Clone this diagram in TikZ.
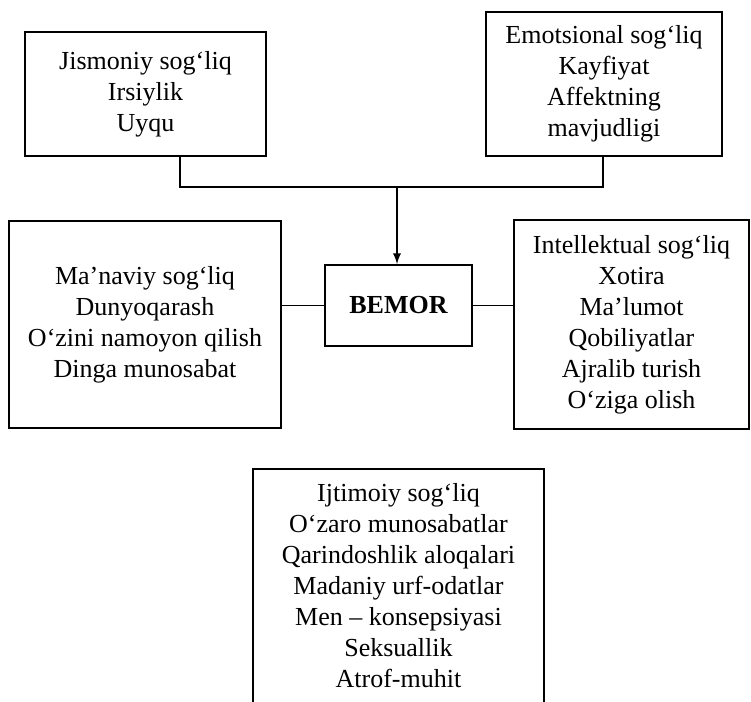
\documentclass[tikz,border=0pt]{standalone}
\usepackage{fontspec}
\setmainfont{Liberation Serif}
\usepackage{tikz}

\begin{document}
\begin{tikzpicture}[x=0.02cm, y=-0.02cm, line width=1.1pt, every node/.style={font=\fontsize{14.8}{17.6}\selectfont}, b/.style={draw, align=center, inner sep=0pt}]
	\useasboundingbox (0,0) rectangle (751,701);
	\node[b, minimum width=4.82cm, minimum height=2.48cm] (jis) at (145.5,94) {Jismoniy sog‘liq\\Irsiylik\\Uyqu};
	\node[b, minimum width=4.72cm, minimum height=2.88cm] (emo) at (604,84) {Emotsional sog‘liq\\Kayfiyat\\Affektning\\mavjudligi};
	\node[b, minimum width=5.44cm, minimum height=4.14cm] (man) at (145,324.5) {Ma’naviy sog‘liq\\Dunyoqarash\\O‘zini namoyon qilish\\Dinga munosabat};
	\node[b, minimum width=2.94cm, minimum height=1.62cm, font=\fontsize{14.8}{17.6}\selectfont\bfseries] (bem) at (398.5,305.5) {BEMOR};
	\node[b, minimum width=4.7cm, minimum height=4.18cm] (int) at (631.5,324.5) {Intellektual sog‘liq\\Xotira\\Ma’lumot\\Qobiliyatlar\\Ajralib turish\\O‘ziga olish};
	\node[align=center, inner sep=0pt, minimum width=5.78cm, minimum height=4.62cm] (ijt) at (398.5,585.5) {Ijtimoiy sog‘liq\\O‘zaro munosabatlar\\Qarindoshlik aloqalari\\Madaniy urf-odatlar\\Men – konsepsiyasi\\Seksuallik\\Atrof-muhit};
	\draw (ijt.south west) -- (ijt.north west) -- (ijt.north east) -- (ijt.south east);
	\coordinate (j) at (180,187); \coordinate (e) at (603,187); \coordinate (m) at (397,187);
	\draw (jis.south -| j) -- (j) -- (e) -- (emo.south -| e);
	\draw[-latex] (m) -- (bem.north -| m);
	\draw (man.east |- bem) -- (bem.west); \draw (bem.east) -- (int.west |- bem);
\end{tikzpicture}
\end{document}
